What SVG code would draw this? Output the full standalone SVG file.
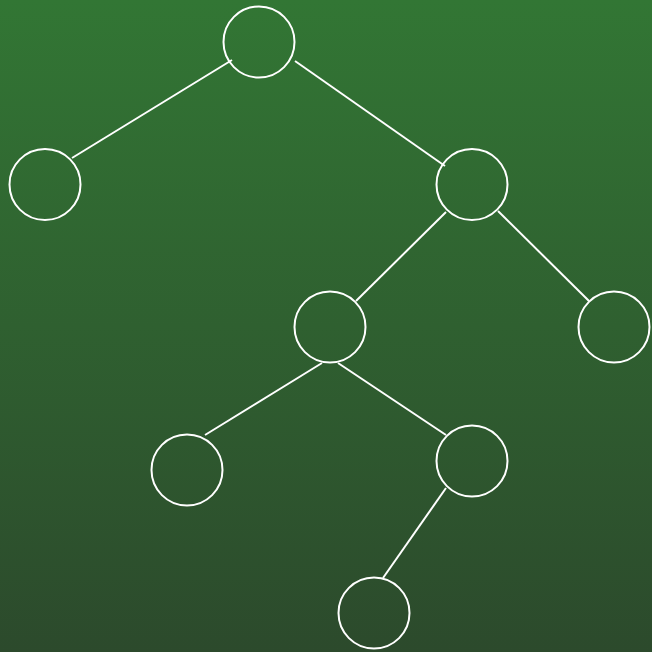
<svg xmlns="http://www.w3.org/2000/svg" width="652" height="652" viewBox="0 0 652 652">
<defs>
<linearGradient id="bg" x1="0" y1="0" x2="0" y2="1">
<stop offset="0" stop-color="#327634"/>
<stop offset="1" stop-color="#2c4a2c"/>
</linearGradient>
<style>
.n{fill:none;stroke:#ffffff;stroke-width:2}
.e{stroke:#ffffff;stroke-width:2;fill:none}
</style>
</defs>
<rect width="652" height="652" fill="url(#bg)"/>
<g id="edges">
<line class="e" x1="232" y1="60" x2="72" y2="158"/>
<line class="e" x1="295" y1="61" x2="445" y2="166"/>
<line class="e" x1="446" y1="212" x2="356" y2="301"/>
<line class="e" x1="498" y1="211" x2="589" y2="301"/>
<line class="e" x1="322" y1="363" x2="205" y2="435"/>
<line class="e" x1="338" y1="363" x2="446" y2="435"/>
<line class="e" x1="446" y1="488" x2="383" y2="578"/>
</g>
<g id="n1"><circle class="n" cx="259" cy="42" r="35.5"/></g>
<g id="n2"><circle class="n" cx="45" cy="184.5" r="35.5"/></g>
<g id="n3"><circle class="n" cx="472" cy="184.5" r="35.5"/></g>
<g id="n4"><circle class="n" cx="330" cy="327" r="35.5"/></g>
<g id="n5"><circle class="n" cx="614" cy="327" r="35.5"/></g>
<g id="n6"><circle class="n" cx="187" cy="470" r="35.5"/></g>
<g id="n7"><circle class="n" cx="472" cy="461" r="35.5"/></g>
<g id="n8"><circle class="n" cx="374" cy="613" r="35.5"/></g>
</svg>
